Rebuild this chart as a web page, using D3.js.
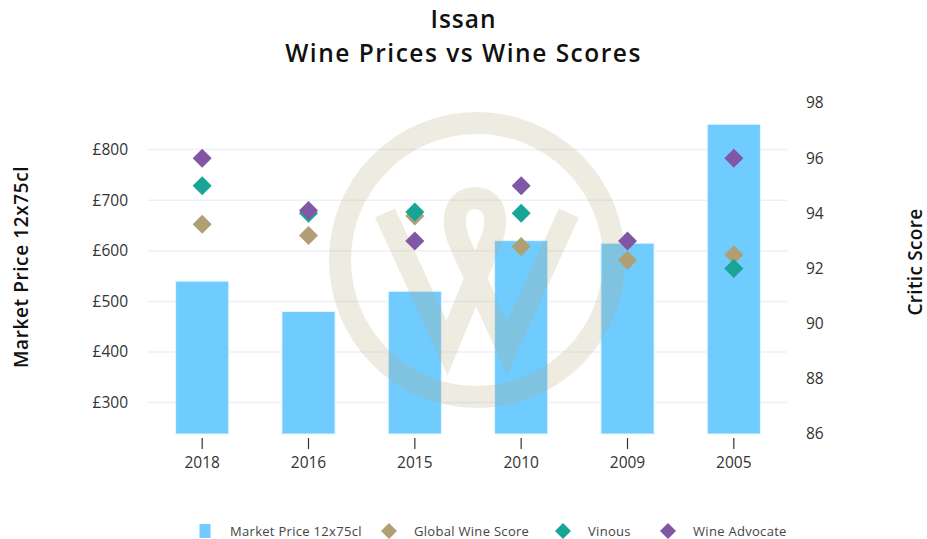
<!DOCTYPE html>
<html>
<head>
<meta charset="utf-8">
<script src="https://cdnjs.cloudflare.com/ajax/libs/d3/7.8.5/d3.min.js"></script>
<style>
	body { margin: 0; background: #fff; }
	svg { display: block; font-family: 'Open Sans', sans-serif; }
</style>
</head>
<body>
<div id="chart"></div>
<script>
var vintages = ['2018', '2016', '2015', '2010', '2009', '2005'];
var marketPrice = [540, 480, 520, 620, 615, 850];
var globalWineScore = [93.6, 93.2, 93.9, 92.8, 92.3, 92.5];
var vinous = [95, 94, 94.05, 94, null, 92];
var wineAdvocate = [96, 94.1, 93, 95, 93, 96];
var priceTicks = [300, 400, 500, 600, 700, 800];
var scoreTicks = [86, 88, 90, 92, 94, 96, 98];

var width = 927,
	height = 539;

var plot = { left: 149, right: 787, top: 103, bottom: 434 };

var colors = {
	bar: '#70cbfe',
	gws: '#b09f72',
	vinous: '#17a597',
	wa: '#8156a4'
};

var svg = d3.select('#chart').append('svg')
	.attr('width', width)
	.attr('height', height);

var x = d3.scaleBand()
	.domain(vintages)
	.range([plot.left, plot.right])
	.paddingInner(0.5)
	.paddingOuter(0.25);

var yPrice = d3.scaleLinear()
	.domain([238, 892])
	.range([plot.bottom, plot.top]);

var yScore = d3.scaleLinear()
	.domain([86, 98])
	.range([plot.bottom, plot.top]);

// titles
svg.append('text')
	.attr('x', width / 2)
	.attr('y', 28)
	.attr('text-anchor', 'middle')
	.style('font-size', '24.5px')
	.style('font-weight', 600)
	.style('letter-spacing', '1px')
	.style('fill', '#111')
	.text('Issan');

svg.append('text')
	.attr('x', width / 2)
	.attr('y', 62)
	.attr('text-anchor', 'middle')
	.style('font-size', '24.5px')
	.style('font-weight', 600)
	.style('letter-spacing', '1.5px')
	.style('fill', '#111')
	.text('Wine Prices vs Wine Scores');

// gridlines
svg.append('g')
	.selectAll('line')
	.data(priceTicks)
	.enter().append('line')
	.attr('x1', plot.left - 1)
	.attr('x2', plot.right)
	.attr('y1', function(d) { return yPrice(d); })
	.attr('y2', function(d) { return yPrice(d); })
	.style('stroke', '#edf0f7')
	.style('stroke-width', 1.5);

// left axis
var leftAxis = svg.append('g')
	.attr('transform', 'translate(' + (plot.left - 18) + ',0)')
	.call(d3.axisLeft(yPrice).tickValues(priceTicks).tickSize(0).tickFormat(function(d) { return '£' + d; }));
leftAxis.select('.domain').remove();
leftAxis.selectAll('text')
	.style('font-size', '15.5px')
	.style('font-family', "'Open Sans', sans-serif")
	.style('fill', '#333');

// right axis
var rightAxis = svg.append('g')
	.attr('transform', 'translate(' + (plot.right + 19) + ',0)')
	.call(d3.axisRight(yScore).tickValues(scoreTicks).tickSize(0));
rightAxis.select('.domain').remove();
rightAxis.selectAll('text')
	.attr('x', 0)
	.style('font-size', '15.5px')
	.style('font-family', "'Open Sans', sans-serif")
	.style('fill', '#333');

// x axis
var bottomAxis = svg.append('g')
	.attr('transform', 'translate(0,' + (plot.bottom + 4) + ')')
	.call(d3.axisBottom(x).tickSize(11).tickPadding(8));
bottomAxis.select('.domain').remove();
bottomAxis.selectAll('line').style('stroke', '#333').style('stroke-width', 1.2);
bottomAxis.selectAll('text')
	.style('font-size', '15.5px')
	.style('font-family', "'Open Sans', sans-serif")
	.style('fill', '#333');

// axis titles
svg.append('text')
	.attr('transform', 'translate(28,' + 267 + ') rotate(-90)')
	.attr('text-anchor', 'middle')
	.style('font-size', '19px')
	.style('font-weight', 600)
	.style('letter-spacing', '0.6px')
	.style('fill', '#111')
	.text('Market Price 12x75cl');

svg.append('text')
	.attr('transform', 'translate(922,' + 262 + ') rotate(-90)')
	.attr('text-anchor', 'middle')
	.style('font-size', '19px')
	.style('font-weight', 600)
	.style('letter-spacing', '0.3px')
	.style('fill', '#111')
	.text('Critic Score');

// bars
svg.append('g')
	.selectAll('rect')
	.data(vintages)
	.enter().append('rect')
	.attr('x', function(d) { return x(d); })
	.attr('width', x.bandwidth())
	.attr('y', function(d, i) { return yPrice(marketPrice[i]); })
	.attr('height', function(d, i) { return plot.bottom - yPrice(marketPrice[i]); })
	.style('fill', colors.bar)
	.style('stroke', '#e6f6ff')
	.style('stroke-width', 1);

// watermark
var wm = svg.append('g')
	.attr('transform', 'translate(477,260)')
	.style('opacity', 0.22);
wm.append('circle')
	.attr('r', 137)
	.style('fill', 'none')
	.style('stroke', '#b7a97c')
	.style('stroke-width', 22);
wm.append('path')
	.attr('d', 'M-92,-47 L-30,88 L12,-14 C24,-40 18,-62 -2,-62 C-22,-62 -28,-40 -16,-14 L30,88 L92,-47')
	.style('fill', 'none')
	.style('stroke', '#b7a97c')
	.style('stroke-width', 22)
	.style('stroke-linejoin', 'miter');

// score markers
function diamond(r) {
	return 'M0,' + (-r) + 'L' + r + ',0L0,' + r + 'L' + (-r) + ',0Z';
}

var series = [
	{ name: 'Global Wine Score', values: globalWineScore, color: colors.gws },
	{ name: 'Vinous', values: vinous, color: colors.vinous },
	{ name: 'Wine Advocate', values: wineAdvocate, color: colors.wa }
];

series.forEach(function(s) {
	svg.append('g')
		.selectAll('path')
		.data(vintages.filter(function(d, i) { return s.values[i] != null; }))
		.enter().append('path')
		.attr('d', diamond(9.5))
		.attr('transform', function(d) {
			var i = vintages.indexOf(d);
			return 'translate(' + (x(d) + x.bandwidth() / 2) + ',' + yScore(s.values[i]) + ')';
		})
		.style('fill', s.color);
});

// legend
var legend = svg.append('g')
	.attr('transform', 'translate(0,531)');

var legendItems = [
	{ name: 'Market Price 12x75cl', color: colors.bar, shape: 'rect', x: 205 },
	{ name: 'Global Wine Score', color: colors.gws, shape: 'diamond', x: 389 },
	{ name: 'Vinous', color: colors.vinous, shape: 'diamond', x: 563 },
	{ name: 'Wine Advocate', color: colors.wa, shape: 'diamond', x: 668 }
];

legendItems.forEach(function(item) {
	var g = legend.append('g').attr('transform', 'translate(' + item.x + ',0)');
	if (item.shape === 'rect') {
		g.append('rect')
			.attr('x', -5.5)
			.attr('y', -7)
			.attr('width', 11)
			.attr('height', 14)
			.style('fill', item.color);
	} else {
		g.append('path')
			.attr('d', diamond(8))
			.style('fill', item.color);
	}
	g.append('text')
		.attr('x', 25)
		.attr('dy', '0.35em')
		.style('font-size', '13px')
		.style('letter-spacing', '0.3px')
		.style('fill', '#444')
		.text(item.name);
});
</script>
</body>
</html>
